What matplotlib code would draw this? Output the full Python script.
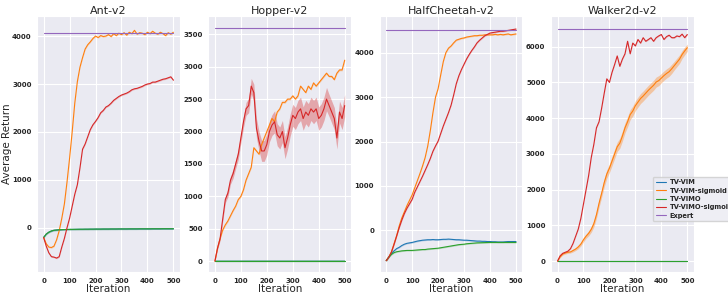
import numpy as np
import matplotlib
matplotlib.use('Agg')
import matplotlib.pyplot as plt
import seaborn as sns

sns.set_style('darkgrid')
plt.rcParams['font.family'] = ['DejaVu Sans']

# iterations sampled every 10 steps
iters = np.arange(0, 501, 10)

# ---- Ant-v2 ----
ant_expert = 4060
ant_vim_sig = [-200, -330, -400, -410, -380, -250, -60, 200, 500, 950,
               1450, 2000, 2600, 3050, 3350, 3550, 3730, 3820, 3880, 3950,
               4000, 3970, 4010, 3990, 4000, 4030, 3990, 4050, 4010, 4060,
               4030, 4070, 4020, 4080, 4050, 4120, 4040, 4070, 4060, 4030,
               4080, 4050, 4100, 4060, 4040, 4080, 4050, 4010, 4070, 4040, 4080]
ant_vimo_sig = [-200, -380, -520, -600, -610, -630, -600, -400, -220, 0,
                200, 450, 700, 900, 1250, 1640, 1750, 1900, 2050, 2150,
                2220, 2300, 2400, 2450, 2520, 2550, 2600, 2660, 2700, 2740,
                2770, 2790, 2810, 2840, 2880, 2900, 2910, 2930, 2950, 2980,
                3000, 3010, 3040, 3040, 3060, 3080, 3100, 3110, 3130, 3150, 3080]
ant_vimo = [-200, -130, -90, -65, -50, -45, -40, -37, -35, -33,
            -32, -31, -30, -29, -28, -28, -27, -27, -26, -26,
            -25, -25, -25, -24, -24, -24, -23, -23, -23, -22,
            -22, -22, -22, -21, -21, -21, -21, -20, -20, -20,
            -20, -20, -19, -19, -19, -19, -18, -18, -18, -18, -18]
ant_vim = ant_vimo

# ---- Hopper-v2 ----
hop_expert = 3600
hop_vim_sig = [0, 200, 350, 480, 560, 620, 700, 780, 850, 950,
               1000, 1100, 1250, 1350, 1450, 1750, 1700, 1650, 1800, 1900,
               2000, 2100, 2200, 2150, 2300, 2350, 2450, 2450, 2500, 2500,
               2550, 2500, 2550, 2700, 2650, 2600, 2700, 2650, 2750, 2700,
               2750, 2800, 2850, 2900, 2850, 2850, 2800, 2900, 2950, 2950, 3100]
hop_vimo_sig = [0, 200, 350, 650, 950, 1050, 1250, 1350, 1500, 1650,
                1900, 2150, 2350, 2400, 2700, 2600, 2050, 1850, 1700, 1700,
                1800, 2000, 2100, 2150, 1950, 1900, 2000, 1750, 1900, 2100,
                2250, 2200, 2300, 2350, 2200, 2300, 2250, 2350, 2300, 2350,
                2200, 2250, 2350, 2500, 2400, 2300, 2200, 1900, 2300, 2200, 2400]
hop_vimo_sig_std = [0, 20, 30, 40, 50, 60, 60, 70, 70, 80,
                    80, 90, 100, 110, 120, 130, 150, 150, 160, 160,
                    160, 160, 160, 170, 170, 170, 170, 170, 170, 170,
                    170, 170, 180, 180, 180, 180, 180, 180, 180, 180,
                    180, 180, 180, 180, 170, 170, 170, 170, 170, 170, 170]
hop_vimo = [10] * 51
hop_vim = hop_vimo

# ---- HalfCheetah-v2 ----
hc_expert = 4500
hc_vim_sig = [-680, -600, -480, -300, -120, 100, 280, 420, 560, 680,
              800, 960, 1120, 1280, 1450, 1640, 1900, 2250, 2650, 3000,
              3190, 3500, 3800, 4000, 4100, 4150, 4220, 4280, 4300, 4320,
              4330, 4350, 4360, 4370, 4380, 4380, 4390, 4390, 4400, 4400,
              4400, 4400, 4410, 4400, 4410, 4400, 4410, 4420, 4400, 4410, 4420]
hc_vimo_sig = [-680, -600, -490, -320, -130, 60, 230, 380, 500, 600,
               700, 860, 980, 1100, 1220, 1350, 1480, 1620, 1780, 1900,
               2010, 2180, 2350, 2500, 2650, 2820, 3050, 3300, 3480, 3620,
               3740, 3860, 3960, 4050, 4130, 4220, 4280, 4330, 4380, 4410,
               4440, 4450, 4460, 4470, 4480, 4480, 4490, 4500, 4510, 4520, 4530]
hc_vim = [-680, -600, -520, -460, -410, -380, -340, -310, -290, -280,
          -270, -255, -240, -230, -220, -215, -210, -210, -205, -210,
          -210, -205, -200, -200, -195, -200, -205, -210, -210, -215,
          -220, -220, -225, -230, -235, -240, -240, -245, -245, -250,
          -250, -255, -255, -260, -260, -260, -255, -250, -250, -250, -250]
hc_vimo = [-680, -600, -540, -500, -480, -470, -460, -455, -450, -450,
           -450, -445, -440, -435, -430, -430, -420, -415, -410, -405,
           -400, -390, -380, -370, -360, -350, -340, -330, -320, -315,
           -310, -300, -295, -290, -285, -280, -278, -276, -274, -272,
           -270, -270, -270, -270, -270, -270, -270, -270, -270, -270, -270]

# ---- Walker2d-v2 ----
wk_expert = 6500
wk_vim_sig = [0, 120, 200, 230, 250, 260, 300, 340, 400, 480,
              600, 700, 780, 890, 1050, 1300, 1620, 1900, 2200, 2440,
              2600, 2800, 3000, 3200, 3300, 3500, 3730, 3900, 4100, 4200,
              4350, 4450, 4550, 4620, 4700, 4780, 4850, 4920, 5010, 5050,
              5120, 5190, 5250, 5300, 5380, 5470, 5560, 5650, 5780, 5880, 5970]
wk_vim_sig_std = [0, 20, 30, 30, 30, 30, 40, 40, 50, 50,
                  60, 60, 70, 80, 90, 100, 110, 110, 120, 120,
                  120, 130, 130, 130, 140, 140, 140, 140, 140, 140,
                  140, 140, 140, 140, 140, 140, 140, 140, 140, 140,
                  130, 130, 130, 130, 130, 120, 120, 120, 110, 110, 100]
wk_vimo_sig = [0, 150, 220, 250, 280, 350, 500, 700, 900, 1200,
               1600, 2000, 2400, 2900, 3270, 3730, 3900, 4280, 4700, 5100,
               5000, 5280, 5500, 5740, 5450, 5650, 5800, 6150, 5800, 6100,
               6020, 6200, 6100, 6250, 6150, 6200, 6250, 6150, 6250, 6300,
               6340, 6200, 6280, 6320, 6250, 6250, 6300, 6280, 6350, 6250, 6340]
wk_vimo = [0] * 51
wk_vim = wk_vimo

labels = ['TV-VIM', 'TV-VIM-sigmoid', 'TV-VIMO', 'TV-VIMO-sigmoid', 'Expert']
colors = ['C0', 'C1', 'C2', 'C3', 'C4']

envs = [
    ('Ant-v2', [ant_vim, ant_vim_sig, ant_vimo, ant_vimo_sig], [None, None, None, None],
     ant_expert, (-920, 4420), np.arange(0, 4001, 1000)),
    ('Hopper-v2', [hop_vim, hop_vim_sig, hop_vimo, hop_vimo_sig], [None, None, None, hop_vimo_sig_std],
     hop_expert, (-167, 3783), np.arange(0, 3501, 500)),
    ('HalfCheetah-v2', [hc_vim, hc_vim_sig, hc_vimo, hc_vimo_sig], [None, None, None, None],
     hc_expert, (-935, 4825), np.arange(0, 4001, 1000)),
    ('Walker2d-v2', [wk_vim, wk_vim_sig, wk_vimo, wk_vimo_sig], [None, wk_vim_sig_std, None, None],
     wk_expert, (-302, 6859), np.arange(0, 6001, 1000)),
]

fig, axes = plt.subplots(1, 4, figsize=(7.28, 2.95), dpi=100)
plt.subplots_adjust(left=0.051, right=0.953, top=0.946, bottom=0.078, wspace=0.2)

for ax, (title, series, stds, expert, ylim, yticks) in zip(axes, envs):
    for k in range(4):
        y = np.array(series[k], dtype=float)
        ax.plot(iters, y, color=colors[k], lw=0.8, label=labels[k])
        if stds[k] is not None:
            s = np.array(stds[k], dtype=float)
            ax.fill_between(iters, y - s, y + s, color=colors[k], alpha=0.35, lw=0)
        else:
            ax.fill_between(iters, y - 15, y + 15, color=colors[k], alpha=0.25, lw=0)
    ax.plot([iters[0], iters[-1]], [expert, expert], color=colors[4], lw=0.8, label=labels[4])
    ax.set_title(title, fontsize=8, pad=1.5)
    ax.set_xlabel('Iteration', fontsize=7.5, labelpad=0)
    ax.set_xlim(-25, 525)
    ax.set_ylim(*ylim)
    ax.set_xticks(np.arange(0, 501, 100))
    ax.set_yticks(yticks)
    ax.tick_params(labelsize=5, pad=0.5)
    for lab in ax.get_xticklabels() + ax.get_yticklabels():
        lab.set_fontweight('bold')

axes[0].set_ylabel('Average Return', fontsize=7.5)
axes[0].yaxis.set_label_coords(-0.175, 0.5)

# legend hangs off the right edge, as in the original figure
leg = axes[3].legend(loc='upper left', bbox_to_anchor=(0.69, 0.385),
                     prop={'weight': 'bold', 'size': 4.8}, handlelength=1.5,
                     handletextpad=0.6, borderpad=0.4, labelspacing=0.35, frameon=True)

fig.savefig('out.png', dpi=100)
